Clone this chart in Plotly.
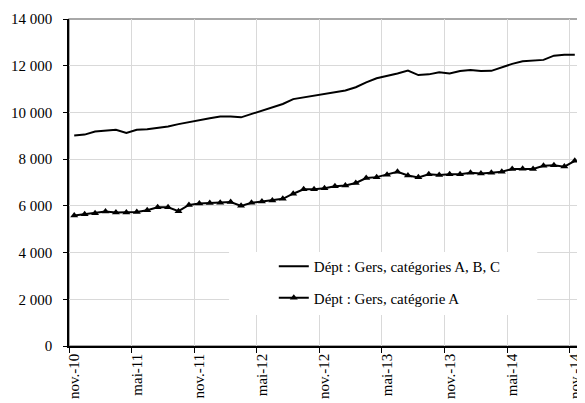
import plotly.graph_objects as go

# mois de nov.-10 à nov.-14
mois_abr = ["janv.", "févr.", "mars", "avr.", "mai", "juin",
            "juil.", "août", "sept.", "oct.", "nov.", "déc."]
mois = []
for k in range(49):
    m = (10 + k) % 12
    an = 10 + (10 + k) // 12
    mois.append(f"{mois_abr[m]}-{an}")

# Dépt : Gers, catégories A, B, C
gers_abc = [9010, 9050, 9180, 9230, 9260, 9120, 9260, 9280, 9340, 9400,
            9500, 9590, 9690, 9750, 9830, 9830, 9790, 9930, 10070, 10240,
            10360, 10570, 10640, 10700, 10800, 10840, 10940, 11080, 11290, 11460,
            11550, 11670, 11790, 11600, 11630, 11720, 11670, 11770, 11820, 11770,
            11780, 11930, 12080, 12190, 12230, 12250, 12430, 12470, 12470]

# Dépt : Gers, catégorie A
gers_a = [5590, 5640, 5680, 5760, 5720, 5720, 5740, 5810, 5940, 5940,
          5770, 6040, 6100, 6120, 6130, 6160, 6000, 6130, 6190, 6230,
          6300, 6520, 6710, 6710, 6750, 6840, 6870, 6980, 7190, 7230,
          7330, 7460, 7300, 7220, 7350, 7320, 7350, 7350, 7420, 7380,
          7420, 7460, 7580, 7590, 7580, 7720, 7740, 7680, 7930]

tick_mois = mois[::6]
police = "'Liberation Serif', 'Times New Roman', Times, serif"

# la page ajoute une marge de 8 px : figure 577x395, zone de tracé 514x327
L, T, W, H = 61, 11, 514, 327

fig = go.Figure()
fig.add_trace(go.Scatter(
    x=mois, y=gers_abc, mode="lines",
    name="Dépt : Gers, catégories A, B, C",
    line=dict(color="black", width=2),
    legendgroup="abc",
))
fig.add_trace(go.Scatter(
    x=mois, y=gers_a, mode="lines+markers",
    name="Dépt : Gers, catégorie A",
    line=dict(color="black", width=2),
    marker=dict(symbol="triangle-up", size=7, color="black"),
    legendgroup="a",
))

# cadre gris + fond blanc de la légende
fig.add_shape(type="rect", xref="paper", yref="paper", x0=0, x1=1, y0=0, y1=1,
              line=dict(color="#8c8c8c", width=1.5), layer="below")
fig.add_shape(type="rect", xref="paper", yref="paper",
              x0=(230 - 69) / W, x1=(540 - 69) / W,
              y0=(346 - 315) / H, y1=(346 - 252) / H,
              line=dict(width=0), fillcolor="white", layer="above")

fig.update_layout(
    width=577, height=395,
    margin=dict(l=L, r=577 - L - W, t=T, b=395 - T - H),
    paper_bgcolor="white", plot_bgcolor="white",
    font=dict(family=police, size=15, color="black"),
    separators=", ",
    showlegend=True,
    legend=dict(x=(275 - 69) / W, y=(346 - 250) / H,
                xanchor="left", yanchor="top",
                bgcolor="rgba(0,0,0,0)", tracegroupgap=9,
                font=dict(family=police, size=15)),
)
fig.update_xaxes(
    type="category", range=[-0.5, 48.5],
    tickmode="array", tickvals=tick_mois, ticktext=tick_mois,
    tickson="boundaries", tickangle=-90,
    ticks="outside", ticklen=5, tickcolor="black",
    tickfont=dict(family=police, size=15),
    showgrid=True, gridcolor="#d9d9d9", gridwidth=1,
    showline=True, linecolor="black", linewidth=1.5,
)
fig.update_yaxes(
    range=[0, 14000], dtick=2000, tickformat=",d",
    ticks="outside", ticklen=4, tickcolor="black",
    ticklabelstandoff=8,
    tickfont=dict(family=police, size=15),
    showgrid=True, gridcolor="#d9d9d9", gridwidth=1,
    showline=True, linecolor="black", linewidth=1.5,
    zeroline=False,
)

fig.write_html("out.html")
